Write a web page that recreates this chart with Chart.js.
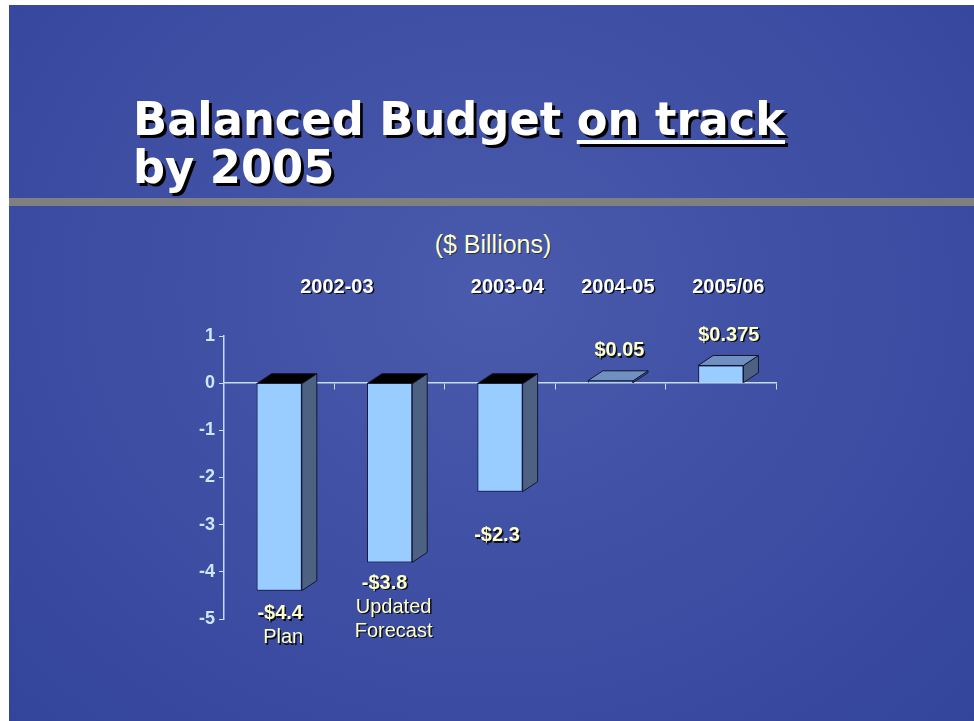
<!DOCTYPE html>
<html lang="en">
<head>
    <meta charset="UTF-8">
    <title>Balanced Budget on track by 2005</title>
    <script src="https://cdn.jsdelivr.net/npm/chart.js"></script>
    <style>
        html, body {margin: 0; padding: 0; background: #fff; width: 974px; height: 721px; overflow: hidden;}
        #slide {
            position: absolute; left: 9px; top: 5px; width: 965px; height: 716px;
            background: radial-gradient(ellipse at 50% 40%, #4a5bad 0%, #3d4ea3 55%, #33449b 100%);
        }
        #title {
            position: absolute; left: 133px; top: 95px;
            font-family: "DejaVu Sans", sans-serif; font-weight: bold; font-size: 46px; line-height: 48px;
            color: #fff; text-shadow: 3px 3px 0 #000; white-space: nowrap;
            transform-origin: left top;
        }
        #title u {text-decoration-thickness: 4px; text-underline-offset: 5px;}
        #rule {position: absolute; left: 9px; top: 198px; width: 965px; height: 8px; background: #808080;}
        #units {
            position: absolute; left: 393px; top: 229px; width: 200px; text-align: center;
            font-family: "Liberation Sans", Arial, sans-serif; font-size: 25px; line-height: 30px;
            color: #ffffcc; text-shadow: 1px 1px 0 rgba(0,0,0,0.5);
        }
        #chart {position: absolute; left: 0; top: 0;}
    </style>
</head>
<body>
    <div id="slide"></div>
    <div id="title"><span id="line1">Balanced Budget <u>on track</u></span><br>by 2005</div>
    <div id="rule"></div>
    <div id="units">($ Billions)</div>
    <canvas id="chart" width="974" height="721"></canvas>
    <script>
        // data
        const periods = ['2002-03', '2002-03', '2003-04', '2004-05', '2005/06'];
        const balance = [-4.4, -3.8, -2.3, 0.05, 0.375];
        const notes = [['Plan'], ['Updated', 'Forecast'], [], [], []];
        const yTicks = [1, 0, -1, -2, -3, -4, -5];

        // squeeze the title to the width of the original
        const line1 = document.getElementById('line1');
        const title = document.getElementById('title');
        title.style.transform = 'scaleX(' + (652 / line1.getBoundingClientRect().width) + ')';

        const axisColor = '#c4dcf4';
        const depthX = 15, depthY = 10;

        const bar3d = {
            id: 'bar3d',
            beforeDatasetsDraw(chart) {
                const ctx = chart.ctx;
                chart.getDatasetMeta(0).data.forEach((bar, i) => {
                    const half = bar.width / 2;
                    const l = bar.x - half, r = bar.x + half;
                    const top = Math.min(bar.y, bar.base), bottom = Math.max(bar.y, bar.base);
                    ctx.save();
                    ctx.strokeStyle = '#151530';
                    ctx.lineWidth = 1;
                    // side
                    ctx.beginPath();
                    ctx.moveTo(r, top);
                    ctx.lineTo(r + depthX, top - depthY);
                    ctx.lineTo(r + depthX, bottom - depthY);
                    ctx.lineTo(r, bottom);
                    ctx.closePath();
                    ctx.fillStyle = '#4d6283';
                    ctx.fill();
                    ctx.stroke();
                    // top
                    ctx.beginPath();
                    ctx.moveTo(l, top);
                    ctx.lineTo(l + depthX, top - depthY);
                    ctx.lineTo(r + depthX, top - depthY);
                    ctx.lineTo(r, top);
                    ctx.closePath();
                    ctx.fillStyle = balance[i] < 0 ? '#000' : '#6f90c0';
                    ctx.fill();
                    ctx.stroke();
                    ctx.restore();
                });
            }
        };

        const barText = {
            id: 'barText',
            afterDatasetsDraw(chart, args, opts) {
                const ctx = chart.ctx;
                const bars = chart.getDatasetMeta(0).data;
                ctx.save();
                ctx.textAlign = 'center';
                ctx.textBaseline = 'middle';
                ctx.shadowColor = 'rgba(0,0,0,0.85)';
                ctx.shadowOffsetX = 1.5;
                ctx.shadowOffsetY = 1.5;

                // period headers, merged over repeated periods
                ctx.font = 'bold 20px "Liberation Sans", Arial, sans-serif';
                ctx.fillStyle = '#fff';
                let start = 0;
                for (let i = 1; i <= periods.length; i++) {
                    if (i === periods.length || periods[i] !== periods[start]) {
                        const cx = (bars[start].x + bars[i - 1].x) / 2 + depthX / 2 - (i - start > 1 ? 5 : 0);
                        ctx.fillText(periods[start], cx, chart.chartArea.top - 49);
                        start = i;
                    }
                }

                // values and notes
                ctx.fillStyle = '#ffffc8';
                bars.forEach((bar, i) => {
                    const v = balance[i];
                    const text = (v < 0 ? '-' : '') + '$' + Math.abs(v);
                    const shift = opts.shift[i];
                    ctx.font = 'bold 20px "Liberation Sans", Arial, sans-serif';
                    if (v < 0) {
                        const y = bar.y + 23 + opts.gap[i];
                        ctx.fillText(text, bar.x + shift, y);
                        ctx.font = '20px "Liberation Sans", Arial, sans-serif';
                        notes[i].forEach((n, k) => ctx.fillText(n, bar.x + 4, y + 24 * (k + 1)));
                    } else {
                        ctx.fillText(text, bar.x + shift, bar.y - depthY - 20);
                    }
                });
                ctx.restore();
            }
        };

        new Chart(document.getElementById('chart'), {
            type: 'bar',
            data: {
                labels: periods.map((p, i) => p + ' ' + i),
                datasets: [{
                    data: balance,
                    backgroundColor: '#99ccff',
                    borderColor: '#151530',
                    borderWidth: 1,
                    barPercentage: 0.41,
                    categoryPercentage: 1
                }]
            },
            options: {
                responsive: false,
                animation: false,
                layout: {padding: {left: 174, right: 198, top: 336, bottom: 102}},
                plugins: {
                    legend: {display: false},
                    tooltip: {enabled: false},
                    barText: {shift: [1, -5, -3, 9, 8], gap: [0, -2, 21, 0, 0]}
                },
                scales: {
                    x: {
                        position: {y: 0},
                        ticks: {display: false},
                        grid: {drawOnChartArea: false, tickLength: 6, color: axisColor, offset: true},
                        border: {color: axisColor, width: 1.5}
                    },
                    y: {
                        min: yTicks[yTicks.length - 1],
                        max: yTicks[0],
                        afterFit: s => { s.width = 50; },
                        afterBuildTicks: s => { s.ticks = yTicks.map(v => ({value: v})); },
                        ticks: {
                            color: '#cfe6ff',
                            padding: 4,
                            font: {family: '"Liberation Sans", Arial, sans-serif', weight: 'bold', size: 18}
                        },
                        grid: {drawOnChartArea: false, tickLength: 5, color: axisColor},
                        border: {color: axisColor, width: 1.5}
                    }
                }
            },
            plugins: [bar3d, barText]
        });
    </script>
</body>
</html>
